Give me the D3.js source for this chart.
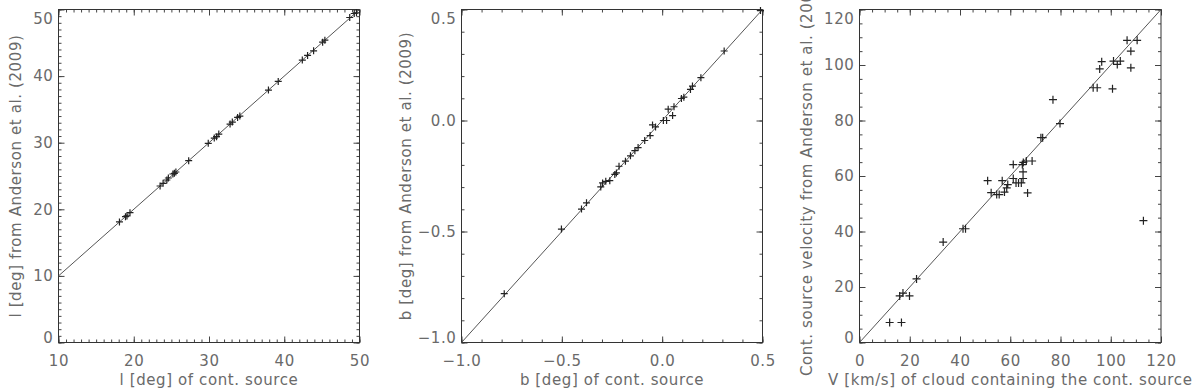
<!DOCTYPE html>
<html>
<head>
<meta charset="utf-8">
<script src="https://cdn.jsdelivr.net/npm/d3@7"></script>
<style>
  body { margin: 0; background: #fff; }
  svg { display: block; }
  .lbl { font-family: "DejaVu Sans", sans-serif; font-size: 15px; fill: #6a6a6a; letter-spacing: 0.6px; }
</style>
</head>
<body>
<div class="visualisation"></div>
<script>
// panel 1: galactic longitude
const lonCont = [18.1, 18.9, 19.1, 19.5, 23.5, 23.9, 24.4, 24.6, 25.2, 25.4, 25.6, 27.3, 29.9, 30.7, 31.0, 31.3, 32.8, 33.1, 33.8, 34.1, 37.9, 39.2, 42.4, 43.1, 43.9, 45.1, 45.4, 48.7, 49.3, 49.6];
const lonAnd = [18.1, 18.9, 19.0, 19.5, 23.5, 23.9, 24.4, 24.7, 25.3, 25.4, 25.6, 27.3, 29.9, 30.7, 30.9, 31.3, 32.8, 33.1, 33.8, 34.0, 37.9, 39.2, 42.4, 43.1, 43.8, 45.1, 45.4, 48.8, 49.4, 49.5];
const lonTicksX = [10, 20, 30, 40, 50];
const lonTicksY = [0, 10, 20, 30, 40, 50];

// panel 2: galactic latitude
const latCont = [-0.787, -0.502, -0.402, -0.377, -0.306, -0.297, -0.281, -0.261, -0.236, -0.228, -0.215, -0.183, -0.158, -0.136, -0.120, -0.087, -0.060, -0.048, -0.033, 0.006, 0.022, 0.030, 0.052, 0.059, 0.096, 0.108, 0.141, 0.151, 0.193, 0.309, 0.490];
const latAnd = [-0.780, -0.489, -0.399, -0.371, -0.299, -0.281, -0.274, -0.271, -0.243, -0.236, -0.206, -0.183, -0.159, -0.136, -0.122, -0.090, -0.068, -0.020, -0.029, 0.000, 0.000, 0.051, 0.022, 0.062, 0.099, 0.105, 0.140, 0.155, 0.193, 0.313, 0.495];
const latTicks = [-1.0, -0.5, 0.0, 0.5];

// panel 3: velocity
const vCloud = [12.0, 16.7, 16.0, 17.3, 19.9, 22.7, 33.3, 41.2, 42.2, 51.0, 52.4, 54.6, 55.6, 56.8, 57.7, 58.6, 59.0, 61.2, 61.2, 62.3, 63.3, 64.4, 64.8, 65.2, 65.1, 65.1, 66.4, 68.7, 66.9, 72.2, 72.9, 77.0, 79.8, 93.0, 94.6, 95.6, 96.4, 100.7, 101.1, 102.6, 103.8, 106.5, 110.5, 108.0, 108.0, 113.0];
const vCont = [7.2, 7.2, 16.8, 17.8, 16.8, 22.9, 36.2, 41.0, 41.0, 58.3, 54.0, 53.3, 53.3, 58.3, 54.2, 55.7, 56.9, 64.1, 59.1, 57.5, 57.5, 57.5, 64.1, 64.9, 61.5, 59.1, 65.4, 65.4, 53.9, 73.8, 73.8, 87.5, 78.9, 91.8, 91.8, 98.6, 101.2, 91.4, 101.4, 100.2, 101.4, 108.9, 108.9, 105.0, 99.0, 43.9];
const velTicks = [0, 20, 40, 60, 80, 100, 120];

const W = 1200, H = 392;
const plotTop = 9.5, plotBottom = 342.5;

const panels = [
    { xs: lonCont, ys: lonAnd, xDom: [10, 50], yDom: [0, 50], xTicks: lonTicksX, yTicks: lonTicksY,
      xMinor: 1, yMinor: 1, fmt: d3.format('d'), left: 58.5, right: 359.5, titleX: 16, mark: 3.5,
      xTitle: 'l [deg] of cont. source', yTitle: 'l [deg] from Anderson et al. (2009)' },
    { xs: latCont, ys: latAnd, xDom: [-1, 0.5], yDom: [-1, 0.5], xTicks: latTicks, yTicks: latTicks,
      xMinor: 0.1, yMinor: 0.1, fmt: d3.format('.1f'), left: 461.5, right: 762.5, titleX: 406, mark: 3.5,
      xTitle: 'b [deg] of cont. source', yTitle: 'b [deg] from Anderson et al. (2009)' },
    { xs: vCloud, ys: vCont, xDom: [0, 120], yDom: [0, 120], xTicks: velTicks, yTicks: velTicks,
      xMinor: 5, yMinor: 5, fmt: d3.format('d'), left: 859.5, right: 1161, titleX: 807, mark: 4,
      xTitle: 'V [km/s] of cloud containing the cont. source', yTitle: 'Cont. source velocity from Anderson et al. (2009)' }
];

const svg = d3.select('.visualisation').append('svg').attr('width', W).attr('height', H);

panels.forEach((p) => {
    const x = d3.scaleLinear().domain(p.xDom).range([p.left, p.right]);
    const y = d3.scaleLinear().domain(p.yDom).range([plotBottom, plotTop]);
    const g = svg.append('g');

    const minorX = d3.range(p.xDom[0], p.xDom[1] + 1e-9, p.xMinor);
    const minorY = d3.range(p.yDom[0], p.yDom[1] + 1e-9, p.yMinor);

    // ticks on all four sides, pointing inward
    const axes = [
        [() => d3.axisBottom(x), `translate(0,${plotBottom})`, p.xTicks, minorX, true, 'xb'],
        [() => d3.axisTop(x), `translate(0,${plotTop})`, p.xTicks, minorX, false, 'xt'],
        [() => d3.axisLeft(y), `translate(${p.left},0)`, p.yTicks, minorY, true, 'yl'],
        [() => d3.axisRight(y), `translate(${p.right},0)`, p.yTicks, minorY, false, 'yr']
    ];
    axes.forEach(([mk, tr, major, minor, labelled, cls]) => {
        g.append('g').attr('transform', tr)
            .call(mk().tickValues(minor).tickSize(-3).tickFormat(''))
            .call((s) => s.select('.domain').remove())
            .selectAll('line').attr('stroke', '#444');
        const a = g.append('g').attr('class', cls).attr('transform', tr)
            .call(mk().tickValues(major).tickSize(-6).tickPadding(labelled ? 13 : 0)
                .tickFormat(labelled ? p.fmt : ''));
        a.select('.domain').remove();
        a.selectAll('line').attr('stroke', '#444');
        a.attr('font-size', null).attr('font-family', null);
        a.selectAll('text').attr('class', 'lbl').attr('fill', null);
    });
    // y labels: top one sits below its tick, bottom one above
    const yLab = g.select('g.yl').selectAll('.tick text');
    yLab.attr('x', -5);
    yLab.filter((d) => Math.abs(d - p.yDom[1]) < 1e-9).attr('dy', '0.95em');
    yLab.filter((d) => Math.abs(d - p.yDom[0]) < 1e-9).attr('dy', '0');

    g.append('rect').attr('x', p.left).attr('y', plotTop)
        .attr('width', p.right - p.left).attr('height', plotBottom - plotTop)
        .attr('fill', 'none').attr('stroke', '#333');

    // one-to-one line
    g.append('line')
        .attr('x1', x(p.xDom[0])).attr('y1', y(p.xDom[0]))
        .attr('x2', x(p.xDom[1])).attr('y2', y(p.xDom[1]))
        .attr('stroke', '#555').attr('stroke-width', 1);

    const pts = p.xs.map((v, i) => ({ x: v, y: p.ys[i] }));
    const m = p.mark;
    g.append('path')
        .attr('d', pts.map((d) => {
            const cx = x(d.x), cy = y(d.y);
            return `M${cx - m},${cy}h${2 * m}M${cx},${cy - m}v${2 * m}`;
        }).join(''))
        .attr('stroke', '#222').attr('stroke-width', 1.2).attr('fill', 'none');

    g.append('text').attr('class', 'lbl')
        .attr('x', (p.left + p.right) / 2).attr('y', 385)
        .attr('text-anchor', 'middle').text(p.xTitle);
    g.append('text').attr('class', 'lbl')
        .attr('transform', `translate(${p.titleX},${(plotTop + plotBottom) / 2}) rotate(-90)`)
        .attr('text-anchor', 'middle').attr('dy', '0.35em').text(p.yTitle);
});
</script>
</body>
</html>
